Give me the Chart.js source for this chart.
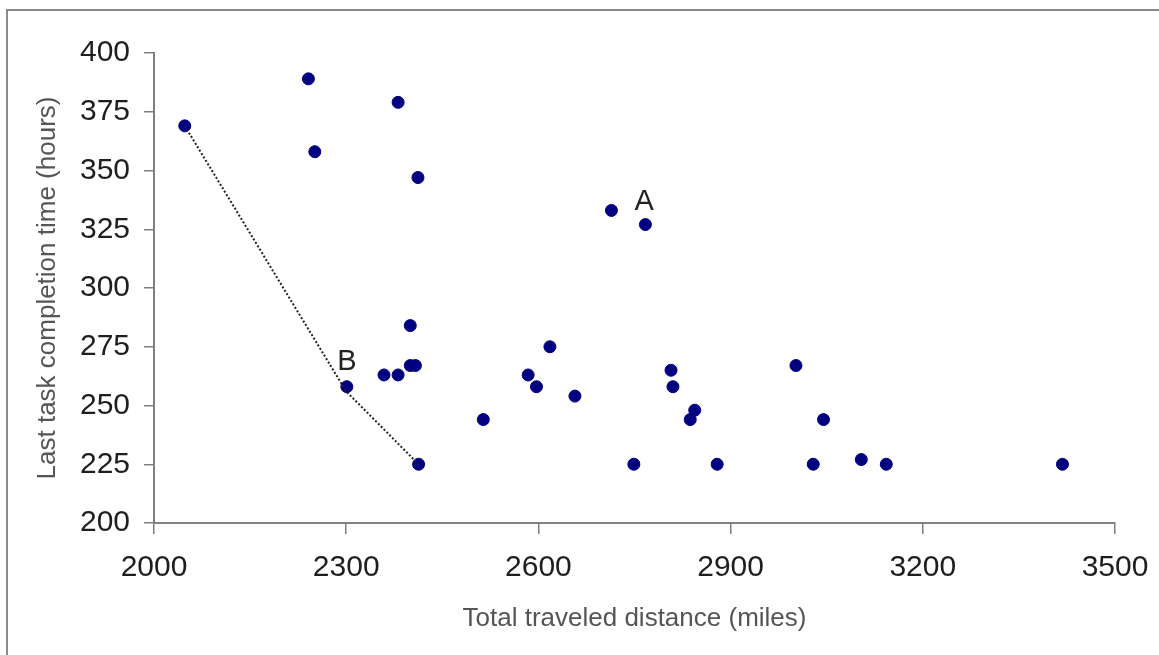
<!DOCTYPE html>
<html>
<head>
<meta charset="utf-8">
<script src="https://cdn.jsdelivr.net/npm/chart.js@4"></script>
<style>
  html, body { margin: 0; padding: 0; background: #fff; overflow: hidden; }
  #frame {
    position: absolute; left: 6px; top: 9px; width: 2000px; height: 2000px;
    border-left: 2px solid #8a8a8a; border-top: 2px solid #8a8a8a;
  }
  #myChart { position: absolute; left: 0; top: 0; }
</style>
</head>
<body>
<div id="frame"></div>
<canvas id="myChart" width="1159" height="655"></canvas>
<script>
// distance (miles) and completion time (hours) for each solution
const distance = [2048, 2241, 2251, 2381, 2412, 2301, 2359, 2381, 2400, 2400, 2408, 2413,
  2514, 2714, 2767, 2618, 2584, 2597, 2657, 2807, 2810, 2844, 2837, 3002, 3045,
  2749, 2879, 3029, 3104, 3143, 3418];
const hours = [369, 389, 358, 379, 347, 258, 263, 263, 284, 267, 267, 225,
  244, 333, 327, 275, 263, 258, 254, 265, 258, 248, 244, 267, 244,
  225, 225, 225, 227, 225, 225];

// dotted line through the non-dominated points
const frontierX = [2048, 2300, 2413];
const frontierY = [369, 256, 225];

// point labels
const noteText = ["A", "B"];
const noteX = [2765, 2301];
const noteY = [336.5, 268.5];

const xTicks = [2000, 2300, 2600, 2900, 3200, 3500];
const yTicks = [200, 225, 250, 275, 300, 325, 350, 375, 400];

const points = [];
for (let i = 0; i < distance.length; i++) {
  points.push({ x: distance[i], y: hours[i] });
}
const frontier = [];
for (let i = 0; i < frontierX.length; i++) {
  frontier.push({ x: frontierX[i], y: frontierY[i] });
}

const notesPlugin = {
  id: "notes",
  afterDatasetsDraw(chart) {
    const ctx = chart.ctx;
    const xs = chart.scales.x;
    const ys = chart.scales.y;
    ctx.save();
    ctx.font = "29px 'Liberation Sans', Arial, sans-serif";
    ctx.fillStyle = "#222";
    ctx.textAlign = "center";
    ctx.textBaseline = "middle";
    for (let i = 0; i < noteText.length; i++) {
      ctx.fillText(noteText[i], xs.getPixelForValue(noteX[i]), ys.getPixelForValue(noteY[i]));
    }
    ctx.restore();
  },
};

Chart.defaults.font.family = "'Liberation Sans', Arial, sans-serif";

new Chart(document.getElementById("myChart"), {
  type: "scatter",
  data: {
    datasets: [
      {
        label: "frontier",
        data: frontier,
        showLine: true,
        borderColor: "#222",
        borderWidth: 2,
        borderDash: [2, 2],
        pointRadius: 0,
        fill: false,
      },
      {
        label: "solutions",
        data: points,
        pointRadius: 6,
        pointBackgroundColor: "#000080",
        pointBorderColor: "#000080",
        pointBorderWidth: 1,
      },
    ],
  },
  options: {
    responsive: false,
    animation: false,
    devicePixelRatio: 1,
    layout: { padding: { top: 53, right: 44, bottom: 0, left: 0 } },
    plugins: { legend: { display: false }, tooltip: { enabled: false } },
    scales: {
      x: {
        type: "linear",
        min: 2000,
        max: 3500,
        afterFit(scale) {
          scale.height = 132;
          scale.paddingRight = 0;
        },
        afterBuildTicks(scale) { scale.ticks = xTicks.map((v) => ({ value: v })); },
        ticks: { font: { size: 30 }, color: "#1e1e1e", padding: 16, callback: (v) => String(v) },
        grid: { drawOnChartArea: false, tickLength: 11, color: "#808080", lineWidth: 1.5 },
        border: { color: "#808080", width: 2 },
        title: {
          display: true,
          text: "Total traveled distance (miles)",
          font: { size: 26 },
          color: "#555",
          padding: { top: 0, bottom: 21 },
        },
      },
      y: {
        type: "linear",
        min: 200,
        max: 400,
        afterFit(scale) { scale.width = 154; },
        afterBuildTicks(scale) { scale.ticks = yTicks.map((v) => ({ value: v })); },
        ticks: { font: { size: 30 }, color: "#1e1e1e", padding: 14, callback: (v) => String(v) },
        grid: { drawOnChartArea: false, tickLength: 10, color: "#808080", lineWidth: 1.5 },
        border: { color: "#808080", width: 2 },
        title: {
          display: true,
          text: "Last task completion time (hours)",
          font: { size: 26 },
          color: "#555",
          padding: { top: 32, bottom: 0 },
        },
      },
    },
  },
  plugins: [notesPlugin],
});
</script>
</body>
</html>
